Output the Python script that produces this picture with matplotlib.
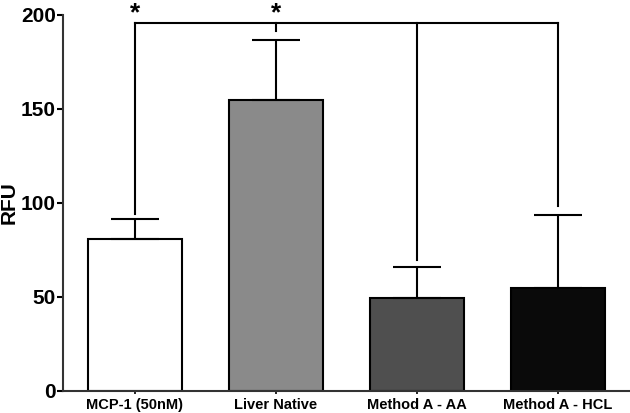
import matplotlib
matplotlib.use("Agg")
import matplotlib.pyplot as plt
import matplotlib.transforms as mtransforms

groups = ["MCP-1 (50nM)", "Liver Native", "Method A - AA", "Method A - HCL"]
means = [81, 155, 49.5, 55]
upper = [91.5, 186.5, 66, 93.5]
colours = ["#ffffff", "#8a8a8a", "#4f4f4f", "#0a0a0a"]

# significance bracket
bracket_y = 196
drop_to = [94, 191.5, 69.5, 98.5]
stars = [0, 1]

plt.rcParams["font.family"] = ["Liberation Sans", "DejaVu Sans"]
plt.rcParams["font.weight"] = "bold"

fig = plt.figure(figsize=(6.3, 4.13), dpi=100)
ax = fig.add_axes([0.1, 0.0533, 0.9, 0.9104])

x = list(range(len(groups)))
errs = [u - m for u, m in zip(upper, means)]
ax.bar(x, means, width=0.67, color=colours, edgecolor="black", linewidth=1.5, zorder=2)
ax.errorbar(x, means, yerr=[[0] * len(x), errs], fmt="none", ecolor="black",
            elinewidth=1.5, capsize=17.5, capthick=1.5, zorder=3)

# bracket
ax.plot([x[0], x[-1]], [bracket_y, bracket_y], color="black", lw=1.5, clip_on=False, zorder=4)
for xi, d in zip(x, drop_to):
    ax.plot([xi, xi], [bracket_y, d], color="black", lw=1.5, clip_on=False, zorder=4)
trans = mtransforms.blended_transform_factory(ax.transData, fig.transFigure)
for s in stars:
    ax.text(x[s], 0.998, "*", ha="center", va="top", fontsize=19,
            fontweight="bold", transform=trans)

ax.set_xlim(-0.51, 3.51)
ax.set_ylim(0, 200)
ax.set_yticks([0, 50, 100, 150, 200])
ax.set_xticks(x)
ax.set_xticklabels(groups, fontsize=10.5, fontweight="bold")
ax.tick_params(axis="y", labelsize=15, length=4, width=1.5, pad=1)
ax.tick_params(axis="x", length=2, width=1.2, pad=3)
for lab in ax.get_yticklabels():
    lab.set_fontweight("bold")
ax.set_ylabel("RFU", fontsize=15, fontweight="bold", labelpad=2)

for side in ["top", "right"]:
    ax.spines[side].set_visible(False)
for side in ["left", "bottom"]:
    ax.spines[side].set_linewidth(1.5)
    ax.spines[side].set_color("#333333")

fig.savefig("out.png", dpi=100)
